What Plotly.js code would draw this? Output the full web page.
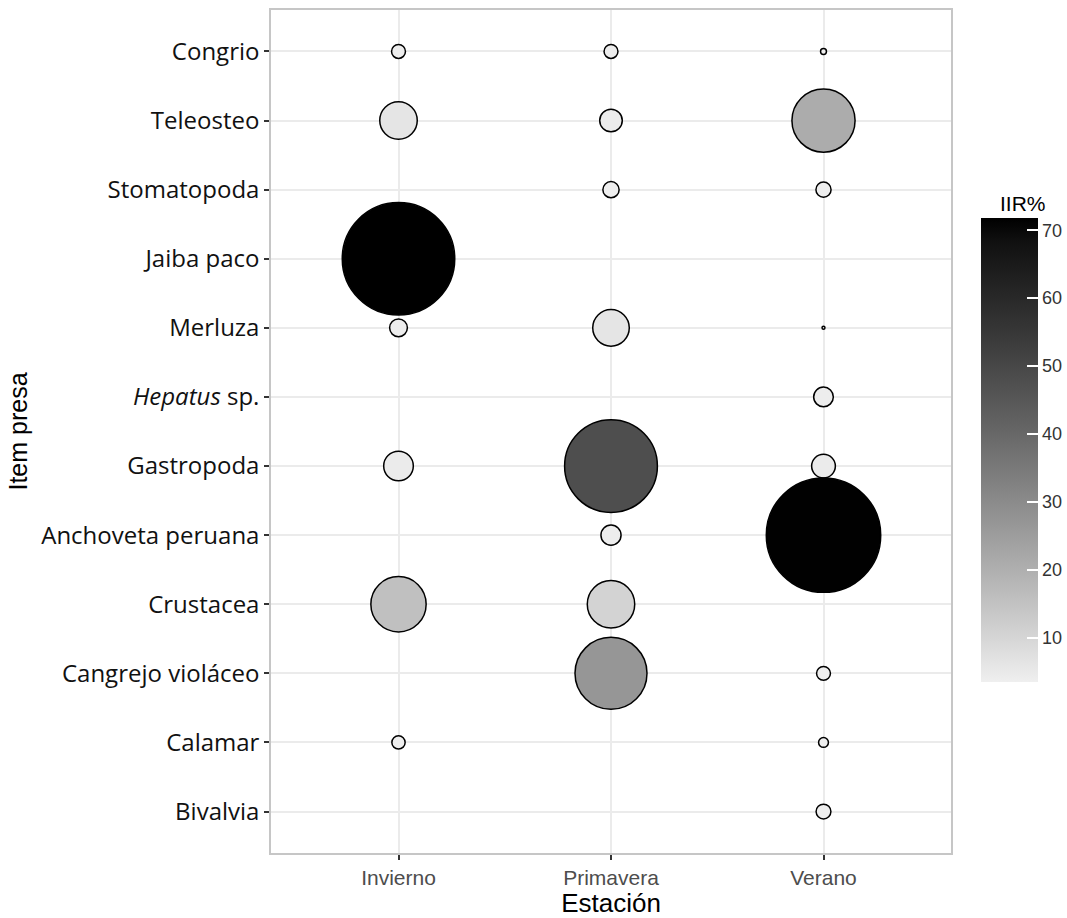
<!DOCTYPE html>
<html><head><meta charset="utf-8">
<script src="https://cdn.plot.ly/plotly-3.0.1.min.js"></script>
<style>body{margin:0;background:#fff}</style>
</head><body><div id="chart" style="width:1067px;height:918px"></div>
<script>
// Categories
const estaciones = ["Invierno", "Primavera", "Verano"];
const items = ["Congrio", "Teleosteo", "Stomatopoda", "Jaiba paco", "Merluza", "<i>Hepatus</i> sp.",
  "Gastropoda", "Anchoveta peruana", "Crustacea", "Cangrejo violáceo", "Calamar", "Bivalvia"];

// Observations (one entry per bubble)
const obsEstacion = [
  "Invierno","Invierno","Invierno","Invierno","Invierno","Invierno","Invierno",
  "Primavera","Primavera","Primavera","Primavera","Primavera","Primavera","Primavera","Primavera",
  "Verano","Verano","Verano","Verano","Verano","Verano","Verano","Verano","Verano","Verano"];
const obsItem = [
  "Congrio","Teleosteo","Jaiba paco","Merluza","Gastropoda","Crustacea","Calamar",
  "Congrio","Teleosteo","Stomatopoda","Merluza","Gastropoda","Anchoveta peruana","Crustacea","Cangrejo violáceo",
  "Congrio","Teleosteo","Stomatopoda","Merluza","<i>Hepatus</i> sp.","Gastropoda","Anchoveta peruana","Cangrejo violáceo","Calamar","Bivalvia"];
// IIR% (fill colour)
const obsIIR = [
  4.0, 6.0, 71.8, 4.0, 4.6, 15.5, 3.6,
  3.9, 4.2, 3.8, 6.0, 48.0, 4.0, 10.5, 27.0,
  3.5, 21.0, 3.8, 3.5, 3.9, 4.5, 71.5, 3.7, 3.6, 3.7];
// Relative size variable (bubble area)
const obsTamano = [
  1.1, 8.0, 72.0, 1.8, 5.0, 17.4, 1.0,
  1.1, 2.9, 1.5, 7.6, 49.0, 2.3, 12.8, 29.5,
  0.2, 22.7, 1.3, 0.05, 2.2, 3.2, 74.5, 1.1, 0.55, 1.25];
const cbTicks = [10, 20, 30, 40, 50, 60, 70];

// grey gradient interpolated in Lab lightness (like ggplot2)
function lToHex(L) {
  let fy = (L + 16) / 116;
  let Y = L > 8 ? fy * fy * fy : L / 903.3;
  let c = Y <= 0.0031308 ? 12.92 * Y : 1.055 * Math.pow(Y, 1 / 2.4) - 0.055;
  let v = Math.max(0, Math.min(255, Math.round(c * 255)));
  let h = v.toString(16).padStart(2, "0");
  return "#" + h + h + h;
}
const Llow = 94.5, Lhigh = 0;
const greyScale = [];
for (let i = 0; i <= 20; i++) {
  const f = i / 20;
  greyScale.push([f, lToHex(Llow + (Lhigh - Llow) * f)]);
}

// geometry of plot and colour bar (pixels)
const W = 1067, H = 918;
const mL = 271, mR = 116, mT = 10, mB = 65;
const plotW = W - mL - mR, plotH = H - mT - mB;
const cbLeft = 981, cbThick = 57, cbLen = 464, cbCenter = 450;
const cmin = Math.min(...obsIIR), cmax = Math.max(...obsIIR);

// white tick marks on the left edge of the colour bar (ggplot style)
const cbShapes = cbTicks.map(v => {
  const py = cbCenter + cbLen / 2 - (v - cmin) / (cmax - cmin) * cbLen;
  const yp = (H - mB - py) / plotH;
  return {
    type: "line", xref: "paper", yref: "paper",
    x0: (cbLeft - mL) / plotW, x1: (cbLeft + 11 - mL) / plotW,
    y0: yp, y1: yp,
    line: {color: "#ffffff", width: 1.5}
  };
});

const trace = {
  type: "scatter",
  mode: "markers",
  x: obsEstacion,
  y: obsItem,
  marker: {
    size: obsTamano,
    sizemode: "area",
    sizeref: 2 * 72 / (112.5 * 112.5),
    sizemin: 0,
    color: obsIIR,
    colorscale: greyScale,
    showscale: true,
    line: {color: "#000000", width: 1.5},
    opacity: 1,
    colorbar: {
      x: (cbLeft - mL) / plotW, xanchor: "left",
      y: (H - mB - cbCenter) / plotH, yanchor: "middle",
      thickness: cbThick, thicknessmode: "pixels",
      len: cbLen, lenmode: "pixels",
      outlinewidth: 0,
      xpad: 0, ypad: 0,
      tickmode: "array",
      tickvals: cbTicks,
      ticks: "inside", ticklen: 11, tickwidth: 1.5, tickcolor: "#ffffff",
      tickfont: {family: "Liberation Sans, Arial, sans-serif", size: 18, color: "#333333"}
    }
  },
  hoverinfo: "x+y",
  showlegend: false
};

const layout = {
  width: W, height: H,
  margin: {l: mL, r: mR, t: mT, b: mB, autoexpand: false},
  paper_bgcolor: "#ffffff",
  plot_bgcolor: "#ffffff",
  shapes: cbShapes,
  annotations: [{
    text: "IIR%", xref: "paper", yref: "paper",
    x: (1023 - mL) / plotW, y: (H - mB - 203) / plotH,
    xanchor: "center", yanchor: "middle", showarrow: false,
    font: {family: "Liberation Sans, Arial, sans-serif", size: 21, color: "#000"}
  }],
  xaxis: {
    type: "category",
    categoryorder: "array", categoryarray: estaciones,
    range: [-0.6, 2.6],
    showgrid: true, gridcolor: "#ebebeb", gridwidth: 2,
    zeroline: false,
    showline: true, mirror: true, linecolor: "#c6c6c6", linewidth: 1.5,
    ticks: "outside", ticklen: 5, tickwidth: 1.5, tickcolor: "#333333",
    tickfont: {family: "Liberation Sans, Arial, sans-serif", size: 21, color: "#4d4d4d"},
    title: {text: "Estación", standoff: 1, font: {family: "Liberation Sans, Arial, sans-serif", size: 26, color: "#000"}}
  },
  yaxis: {
    type: "category",
    categoryorder: "array", categoryarray: items,
    range: [11.6, -0.6],
    showgrid: true, gridcolor: "#ebebeb", gridwidth: 2,
    zeroline: false,
    showline: true, mirror: true, linecolor: "#c6c6c6", linewidth: 1.5,
    ticks: "outside", ticklen: 5, tickwidth: 1.5, tickcolor: "#333333",
    tickfont: {family: "Open Sans, sans-serif", size: 24, color: "#111111"},
    title: {text: "Item presa", standoff: 6, font: {family: "Liberation Sans, Arial, sans-serif", size: 25, color: "#000"}}
  }
};

Plotly.newPlot("chart", [trace], layout, {displayModeBar: false, responsive: false});
</script>
</body></html>
